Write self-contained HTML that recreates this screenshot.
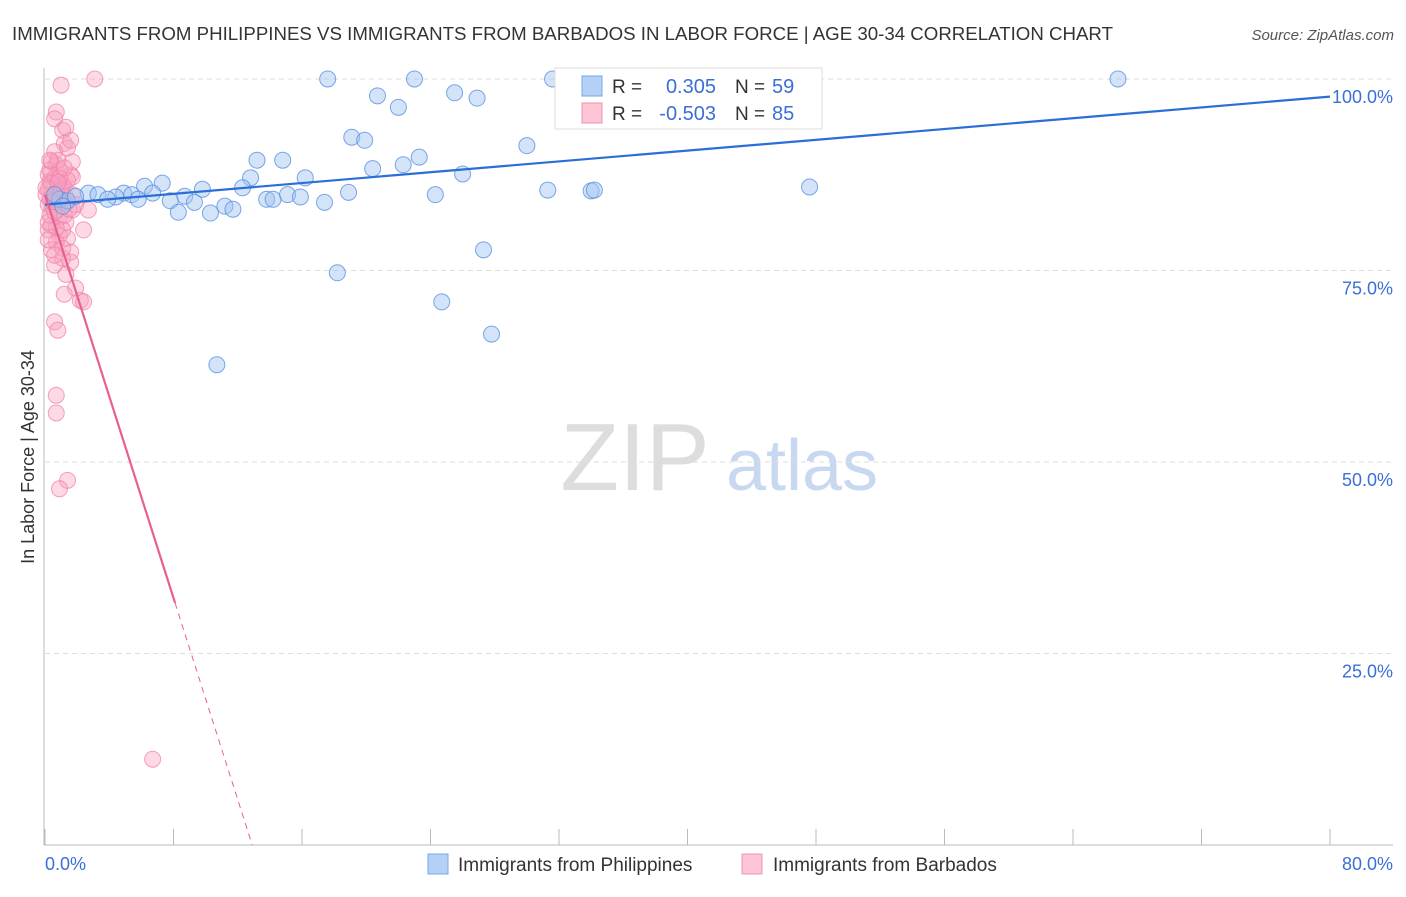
<!DOCTYPE html>
<html><head><meta charset="utf-8"><style>
body{margin:0;background:#fff;font-family:"Liberation Sans",sans-serif;}
svg text{font-family:"Liberation Sans",sans-serif;}
</style></head><body>
<svg id="c" width="1406" height="892" xmlns="http://www.w3.org/2000/svg">
<text x="12" y="40" font-size="18" fill="#333" textLength="1101" lengthAdjust="spacingAndGlyphs">IMMIGRANTS FROM PHILIPPINES VS IMMIGRANTS FROM BARBADOS IN LABOR FORCE | AGE 30-34 CORRELATION CHART</text>
<text x="1394" y="40" font-size="15" fill="#555" font-style="italic" text-anchor="end">Source: ZipAtlas.com</text>
<g>
<text x="635" y="490" font-size="96" fill="#ddd" font-family="Liberation Serif" text-anchor="middle">ZIP</text>
<text x="802" y="490" font-size="72" fill="#c8d8f0" text-anchor="middle">atlas</text>
</g>
<g id="grid"></g><g id="axes"></g><g id="pts"></g><g id="trend"></g>
<text transform="translate(34,457) rotate(-90)" font-size="18" fill="#333" text-anchor="middle">In Labor Force | Age 30-34</text>
<text x="45" y="870" font-size="18" fill="#3a6fd8">0.0%</text>
<text x="1393" y="870" font-size="18" fill="#3a6fd8" text-anchor="end">80.0%</text>
<g>
<rect x="555" y="68" width="267" height="61" fill="#fff" stroke="#ddd"/>
<rect x="582" y="76" width="20" height="20" fill="#b5d0f5" stroke="#7aa7e8"/>
<rect x="582" y="103" width="20" height="20" fill="#fcc5d6" stroke="#f090b0"/>
<text x="612" y="93" font-size="19" fill="#333">R =</text>
<text x="716" y="93" font-size="20" fill="#3a6fd8" text-anchor="end">0.305</text>
<text x="735" y="93" font-size="19" fill="#333">N =</text>
<text x="772" y="93" font-size="20" fill="#3a6fd8">59</text>
<text x="612" y="120" font-size="19" fill="#333">R =</text>
<text x="716" y="120" font-size="20" fill="#3a6fd8" text-anchor="end">-0.503</text>
<text x="735" y="120" font-size="19" fill="#333">N =</text>
<text x="772" y="120" font-size="20" fill="#3a6fd8">85</text>
</g>
<g>
<rect x="428" y="854" width="20" height="20" fill="#b5d0f5" stroke="#7aa7e8"/>
<text x="458" y="871" font-size="19" fill="#333">Immigrants from Philippines</text>
<rect x="742" y="854" width="20" height="20" fill="#fcc5d6" stroke="#f090b0"/>
<text x="773" y="871" font-size="19" fill="#333">Immigrants from Barbados</text>
</g>
</svg>
<script>
const yTicks=[25,50,75,100];
const yTickLabels=["25.0%","50.0%","75.0%","100.0%"];
const blueX=[17.6,23.0,31.6,66.8,20.7,22.0,25.5,26.9,19.1,19.9,30.0,13.2,14.8,23.3,22.3,20.4,26.0,16.2,12.8,12.3,6.2,7.3,9.8,2.7,3.3,4.9,5.4,4.4,3.9,5.8,6.7,8.7,9.3,7.8,8.3,10.3,11.2,11.7,13.8,14.2,15.1,15.9,17.4,18.9,24.3,31.3,34.0,34.2,47.6,27.3,18.2,24.7,27.8,10.7,0.9,1.4,0.6,1.9,1.1];
const blueY=[100,100,100,100,97.8,96.3,98.2,97.5,92.4,92.0,91.3,89.4,89.4,89.8,88.8,88.3,87.6,87.1,87.1,85.8,86.0,86.4,85.6,85.1,84.9,85.1,84.9,84.6,84.3,84.3,85.1,84.7,83.9,84.1,82.6,82.5,83.4,83.0,84.3,84.3,84.9,84.6,83.9,85.2,84.9,85.5,85.4,85.5,85.9,77.7,74.7,70.9,66.7,62.7,84.3,84.1,84.9,84.7,83.4];
const pinkX=[3.1,1.0,0.7,0.6,1.1,1.3,1.2,1.4,1.7,0.6,0.4,0.7,0.9,0.2,0.6,1.6,1.7,0.3,0.8,1.2,0.2,0.4,0.7,0.9,1.3,0.2,0.5,0.8,1.7,2.7,0.3,0.9,1.3,0.4,0.7,2.4,0.9,1.4,0.7,0.4,1.6,1.1,1.6,1.3,1.9,1.2,2.2,2.4,0.6,0.8,0.7,0.7,1.4,0.9,6.7,0.2,0.6,1.1,0.3,0.06,0.8,1.6,1.2,0.2,1.1,0.6,0.4,0.7,1.3,1.4,0.3,0.6,0.06,0.9,1.2,1.7,0.2,0.6,1.9,1.1,0.3,1.0,0.5,0.8,1.5];
const pinkY=[100,99.2,95.7,94.8,93.3,93.7,91.6,91.0,89.2,90.5,89.2,88.8,88.1,87.5,87.1,87.5,87.2,86.6,86.2,85.8,85.6,84.9,84.5,84.3,83.8,83.6,83.2,82.9,82.9,82.9,82.2,81.9,81.3,80.9,80.5,80.3,79.6,79.2,78.7,77.7,77.4,76.6,76.1,74.5,72.7,71.9,71.1,70.9,68.3,67.2,58.7,56.4,47.6,46.5,11.2,80.3,84.3,86.2,88.1,84.9,89.4,92.0,82.2,81.3,77.9,75.7,86.4,85.2,84.6,86.8,84.3,82.6,85.8,87.1,88.4,84.9,79.0,77.0,83.6,80.3,89.4,85.5,84.0,86.5,83.0];
const X=v=>45+v/80*1285, Y=v=>845-v*7.66;
const NS="http://www.w3.org/2000/svg";
function mk(t,a,p){const e=document.createElementNS(NS,t);for(const k in a)e.setAttribute(k,a[k]);p.appendChild(e);return e;}
const g=document.getElementById('grid'),ax=document.getElementById('axes'),pts=document.getElementById('pts'),tr=document.getElementById('trend');
yTicks.forEach((t,i)=>{const l=mk('line',{x1:45,x2:1393,y1:Y(t),y2:Y(t),stroke:'#ddd','stroke-dasharray':'5,4'},g);


const tx=mk('text',{x:1393,y:Y(t)+24,'font-size':18,fill:'#3a6fd8','text-anchor':'end'},g);tx.textContent=yTickLabels[i];

});
const a1=mk('line',{x1:44,x2:44,y1:68,y2:845,stroke:'#bbb'},ax);


const a2=mk('line',{x1:44,x2:1393,y1:845,y2:845,stroke:'#bbb'},ax);


for(let i=0;i<=10;i++){const t=mk('line',{x1:X(i*8),x2:X(i*8),y1:829,y2:845,stroke:'#bbb'},ax);

}
pinkX.forEach((x,i)=>{const c=mk('circle',{cx:X(x),cy:Y(pinkY[i]),r:8,fill:'rgba(248,160,190,0.4)',stroke:'rgba(240,130,170,0.75)','stroke-width':1},pts);

});
blueX.forEach((x,i)=>{const c=mk('circle',{cx:X(x),cy:Y(blueY[i]),r:8,fill:'rgba(160,195,240,0.45)',stroke:'rgba(90,145,225,0.8)','stroke-width':1},pts);

});
const bl=mk('line',{x1:X(0),y1:Y(83.6),x2:X(80),y2:Y(97.7),stroke:'#2a6ed8','stroke-width':2.2},tr);


const pf=x=>84.9-x*84.9/12.9;
const pl=mk('line',{x1:X(0),y1:Y(pf(0)),x2:X(8.1),y2:Y(pf(8.1)),stroke:'#e8608e','stroke-width':2.2},tr);


const pd=mk('line',{x1:X(8.1),y1:Y(pf(8.1)),x2:X(12.9),y2:Y(0),stroke:'#e8608e','stroke-width':1,'stroke-dasharray':'6,5'},tr);


</script>
</body></html>
